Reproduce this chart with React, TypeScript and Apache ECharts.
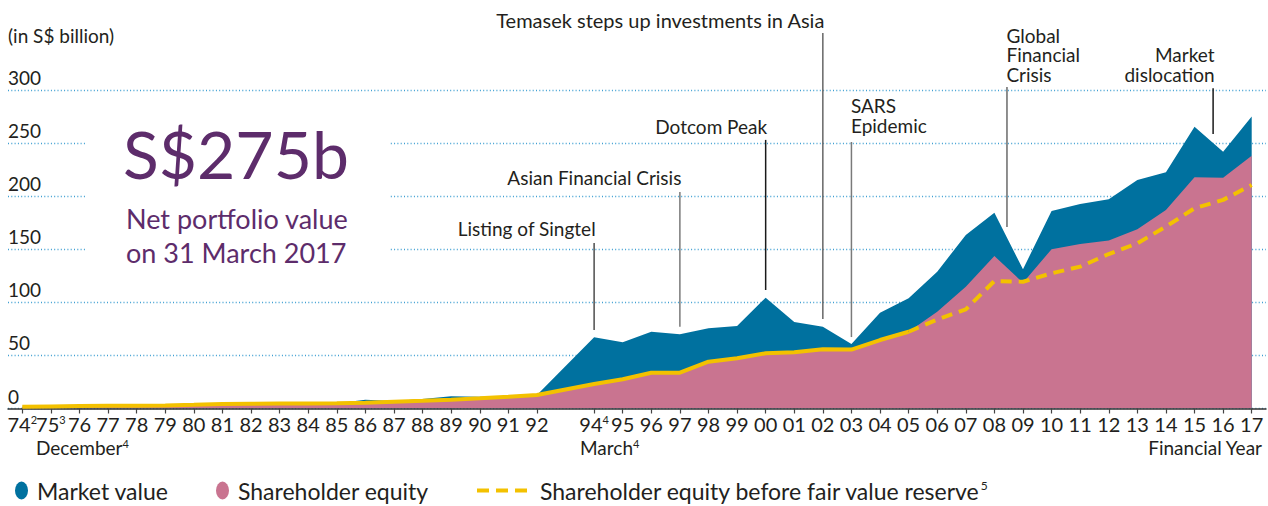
import { useEffect, useRef } from 'react';
import * as echarts from 'echarts';

// ---------- data ----------
const years = ['74','75','76','77','78','79','80','81','82','83','84','85','86','87','88','89','90','91','92','93',
  '94','95','96','97','98','99','00','01','02','03','04','05','06','07','08','09','10','11','12','13','14','15','16','17'];
const gapYear = '93';
const fvrSplitYear = '05';
const superscripts: Record<string, string> = { '74': '2', '75': '3', '94': '4' };
const yTicks = { min: 0, max: 300, interval: 50 };

const marketValue = [1.6, 2.0, 2.3, 2.5, 2.7, 2.9, 3.5, 4.2, 4.5, 4.6, 4.7, 5.0, 8.2, 7.0, 9.0, 11.5, 11.0, 11.1, 12.7, null,
  67.1, 62.4, 72.3, 69.9, 75.5, 77.7, 104.4, 81.5, 77.0, 60.8, 90.2, 103.8, 128.9, 163.4, 184.4, 131.1, 186.0, 192.6, 197.0, 215.2, 222.5, 265.4, 241.9, 275];
const shareholderEquity = [1.6, 2.0, 2.3, 2.5, 2.7, 2.9, 3.5, 4.2, 4.5, 4.6, 4.7, 5.0, 5.5, 6.4, 7.3, 8.3, 9.6, 11.1, 12.7, null,
  23.1, 27.5, 33.7, 33.7, 44.1, 47.3, 52.0, 52.9, 55.8, 55.5, 64.5, 72.3, 91.2, 114.7, 143.6, 118.5, 150.0, 155.0, 158.2, 168.9, 187.0, 217.8, 217.4, 238.1];
const equityBeforeFVR = [1.6, 2.0, 2.3, 2.5, 2.7, 2.9, 3.5, 4.2, 4.5, 4.6, 4.7, 5.0, 5.5, 6.4, 7.3, 8.3, 9.6, 11.1, 12.7, null,
  23.1, 27.5, 33.7, 33.7, 44.1, 47.3, 52.0, 52.9, 55.8, 55.5, 64.5, 72.3, 83.8, 93.4, 120.1, 119.4, 127.3, 133.6, 145.5, 155.6, 171.3, 188.6, 196.5, 210.5];

const seriesNames = ['Market value', 'Shareholder equity', 'Shareholder equity before fair value reserve'];

// annotations: category index (may be fractional), line ends and label centre in data units
const annotations = [
  { lines: ['Listing of Singtel'], at: 20, lineTop: 156, lineBottom: 74, labelAt: 170, side: 'right', stroke: '#4d4d4d', size: 19 },
  { lines: ['Asian Financial Crisis'], at: 23, lineTop: 204, lineBottom: 77, labelAt: 217.6, side: 'right', stroke: '#7a7a7a', size: 19 },
  { lines: ['Dotcom Peak'], at: 26, lineTop: 253, lineBottom: 111.6, labelAt: 266, side: 'right', stroke: '#1a1a1a', size: 19 },
  { lines: ['Temasek steps up investments in Asia'], at: 28, lineTop: 353.7, lineBottom: 84.3, labelAt: 366.4, side: 'right', stroke: '#666666', size: 20 },
  { lines: ['SARS', 'Epidemic'], at: 29, lineTop: 251, lineBottom: 67.3, labelAt: 276, side: 'left', stroke: '#7a7a7a', size: 19 },
  { lines: ['Global', 'Financial', 'Crisis'], at: 34.44, lineTop: 302.8, lineBottom: 170.9, labelAt: 333.4, side: 'left', stroke: '#6a6a6a', size: 19 },
  { lines: ['Market', 'dislocation'], at: 41.65, lineTop: 301.6, lineBottom: 258.5, labelAt: 324.2, side: 'right', stroke: '#1a1a1a', size: 19 },
];

// ---------- style ----------
const BLUE = '#00719f';
const PINK = '#c97490';
const YELLOW = '#f3c100';
const PURPLE = '#5d2c6b';
const INK = '#231f20';
const GRID_BLUE = '#3f9fd2';
const FONT = 'Lato, "Noto Sans", sans-serif';
const ELLIPSE = 'path://M0,9A6.5,9,0,1,1,13,9A6.5,9,0,1,1,0,9Z';
const DASHES = 'path://M0,0H12V4H0Z M19,0H31V4H19Z M38,0H50V4H38Z';

export default function App() {
  const ref = useRef<HTMLDivElement>(null);

  useEffect(() => {
    const el = ref.current!;
    const chart = echarts.init(el, null, { renderer: 'svg' });

    const splitIdx = years.indexOf(fvrSplitYear);
    const solidPart = equityBeforeFVR.map((v, i) => (i <= splitIdx ? v : null));
    const dashedPart = equityBeforeFVR.map((v, i) => (i >= splitIdx ? v : null));

    const legendText = { fontFamily: FONT, fontSize: 23, color: INK, padding: [0, 0, 0, 4] };
    const LEGEND_TOP = 474;

    chart.setOption({
      animation: false,
      grid: { left: 8, right: 2, top: 90, bottom: 97.5, containLabel: false, outerBoundsMode: 'none' },
      xAxis: {
        type: 'category',
        data: years,
        boundaryGap: true,
        z: 3,
        axisLine: { show: true, lineStyle: { color: '#333333', width: 1.5 } },
        axisTick: {
          show: true,
          alignWithLabel: true,
          length: 5,
          interval: (i: number) => years[i] !== gapYear,
          lineStyle: { color: '#444444', width: 1.2 },
        },
        axisLabel: {
          interval: 0,
          margin: 5,
          color: INK,
          formatter: (v: string) =>
            v === gapYear ? '' : superscripts[v] ? `{n|${v}}{s|${superscripts[v]}}` : `{n|${v}}`,
          rich: {
            n: { fontFamily: FONT, fontSize: 20, lineHeight: 20, color: INK },
            s: { fontFamily: FONT, fontSize: 11, lineHeight: 11, color: INK, verticalAlign: 'top' },
          },
        },
        splitLine: { show: false },
      },
      yAxis: {
        type: 'value',
        min: yTicks.min,
        max: yTicks.max,
        interval: yTicks.interval,
        axisLine: { show: false },
        axisTick: { show: false },
        axisLabel: {
          inside: true,
          margin: 0,
          verticalAlign: 'bottom',
          padding: [0, 0, 3, 0],
          fontFamily: FONT,
          fontSize: 19,
          color: INK,
        },
        splitLine: { show: true, lineStyle: { color: GRID_BLUE, width: 1.3, type: [1, 2.3] } },
      },
      legend: [
        { data: [seriesNames[0]], left: 10, top: LEGEND_TOP, icon: ELLIPSE, itemWidth: 13, itemHeight: 18, selectedMode: false, textStyle: legendText, itemStyle: { borderWidth: 0 } },
        { data: [seriesNames[1]], left: 211, top: LEGEND_TOP, icon: ELLIPSE, itemWidth: 13, itemHeight: 18, selectedMode: false, textStyle: legendText, itemStyle: { borderWidth: 0 } },
        {
          data: [seriesNames[2]], left: 472, top: LEGEND_TOP, icon: DASHES, itemWidth: 50, itemHeight: 4, selectedMode: false,
          itemStyle: { borderWidth: 0 },
          formatter: (n: string) => `{t|${n}}{s|5}`,
          textStyle: {
            ...legendText,
            padding: [0, 0, 0, 8],
            rich: {
              t: { fontFamily: FONT, fontSize: 23, color: INK, lineHeight: 23 },
              s: { fontFamily: FONT, fontSize: 12, color: INK, lineHeight: 12, verticalAlign: 'top' },
            },
          },
        },
      ],
      series: [
        {
          name: seriesNames[0], type: 'line', data: marketValue, connectNulls: true, symbol: 'none', silent: true,
          color: BLUE, itemStyle: { color: BLUE }, lineStyle: { width: 0, color: BLUE },
          areaStyle: { color: BLUE, opacity: 1 }, emphasis: { disabled: true }, z: 2,
        },
        {
          name: seriesNames[1], type: 'line', data: shareholderEquity, connectNulls: true, symbol: 'none', silent: true,
          color: PINK, itemStyle: { color: PINK }, lineStyle: { width: 0, color: PINK },
          areaStyle: { color: PINK, opacity: 1 }, emphasis: { disabled: true }, z: 3,
        },
        {
          name: 'equity-before-fvr-solid', type: 'line', data: solidPart, connectNulls: true, symbol: 'none', silent: true,
          color: YELLOW, lineStyle: { width: 4, color: YELLOW }, emphasis: { disabled: true }, z: 4,
        },
        {
          name: seriesNames[2], type: 'line', data: dashedPart, symbol: 'none', silent: true,
          color: YELLOW, itemStyle: { color: YELLOW }, lineStyle: { width: 4, color: YELLOW, type: [11, 7], cap: 'butt' },
          emphasis: { disabled: true }, z: 4,
        },
      ],
    });

    // positions through the chart's own scales
    const toPx = (idx: number, v: number) => chart.convertToPixel({ gridIndex: 0 }, [idx, v]) as number[];
    const y0 = toPx(0, yTicks.min)[1];
    const yMax = toPx(0, yTicks.max)[1];
    const py = (v: number) => y0 + ((yMax - y0) * (v - yTicks.min)) / (yTicks.max - yTicks.min);
    const px = (idx: number) => {
      const i0 = Math.floor(idx);
      const f = idx - i0;
      const a = toPx(i0, 0)[0];
      if (f === 0) return a;
      const b = toPx(i0 + 1, 0)[0];
      return a + (b - a) * f;
    };

    const LINE_GAP = 19.5;
    const graphics: any[] = [];
    annotations.forEach((a, k) => {
      const x = px(a.at);
      graphics.push({
        type: 'line', id: 'ann-line-' + k, z: 10, silent: true,
        shape: { x1: x, y1: py(a.lineTop), x2: x, y2: py(a.lineBottom) },
        style: { stroke: a.stroke, lineWidth: 1.5 },
      });
      const cy = py(a.labelAt);
      const n = a.lines.length;
      a.lines.forEach((line, j) => {
        graphics.push({
          type: 'text', id: `ann-text-${k}-${j}`, z: 10, silent: true,
          x: a.side === 'right' ? x + 1.5 : x - 0.5,
          y: cy + (j - (n - 1) / 2) * LINE_GAP,
          style: {
            text: line, fill: INK, fontFamily: FONT, fontSize: a.size, lineHeight: a.size,
            align: a.side === 'right' ? 'right' : 'left', verticalAlign: 'middle',
          },
        });
      });
    });

    const supRich = (size: number) => ({
      a: { fontFamily: FONT, fontSize: size, lineHeight: size, fill: INK },
      s: { fontFamily: FONT, fontSize: 11, lineHeight: 11, fill: INK, verticalAlign: 'top' },
    });

    graphics.push(
      { type: 'rect', id: 'panel', z: 1, silent: true, shape: { x: 86, y: 100, width: 304, height: 180 }, style: { fill: '#ffffff' } },
      { type: 'text', id: 'big', z: 5, silent: true, x: 123, y: 153, style: { text: 'S$275b', fill: PURPLE, fontFamily: FONT, fontSize: 66, align: 'left', verticalAlign: 'middle' } },
      { type: 'text', id: 'sub1', z: 5, silent: true, x: 126, y: 218, style: { text: 'Net portfolio value', fill: PURPLE, fontFamily: FONT, fontSize: 27, align: 'left', verticalAlign: 'middle' } },
      { type: 'text', id: 'sub2', z: 5, silent: true, x: 126, y: 252, style: { text: 'on 31 March 2017', fill: PURPLE, fontFamily: FONT, fontSize: 27, align: 'left', verticalAlign: 'middle' } },
      { type: 'text', id: 'unit', z: 5, silent: true, x: 8, y: 35, style: { text: '(in S$ billion)', fill: INK, fontFamily: FONT, fontSize: 19, align: 'left', verticalAlign: 'middle' } },
      {
        type: 'text', id: 'dec', z: 5, silent: true, x: 36, y: 447,
        style: { text: '{a|December}{s|4}', fill: INK, align: 'left', verticalAlign: 'middle', rich: supRich(19) },
      },
      {
        type: 'text', id: 'mar', z: 5, silent: true, x: 580, y: 447,
        style: { text: '{a|March}{s|4}', fill: INK, align: 'left', verticalAlign: 'middle', rich: supRich(19) },
      },
      { type: 'text', id: 'fy', z: 5, silent: true, x: 1262, y: 447, style: { text: 'Financial Year', fill: INK, fontFamily: FONT, fontSize: 19, align: 'right', verticalAlign: 'middle' } },
    );

    chart.setOption({ graphic: graphics });

    return () => chart.dispose();
  }, []);

  return <div ref={ref} style={{ position: 'absolute', left: 0, top: 0, width: 1268, height: 506 }} />;
}
